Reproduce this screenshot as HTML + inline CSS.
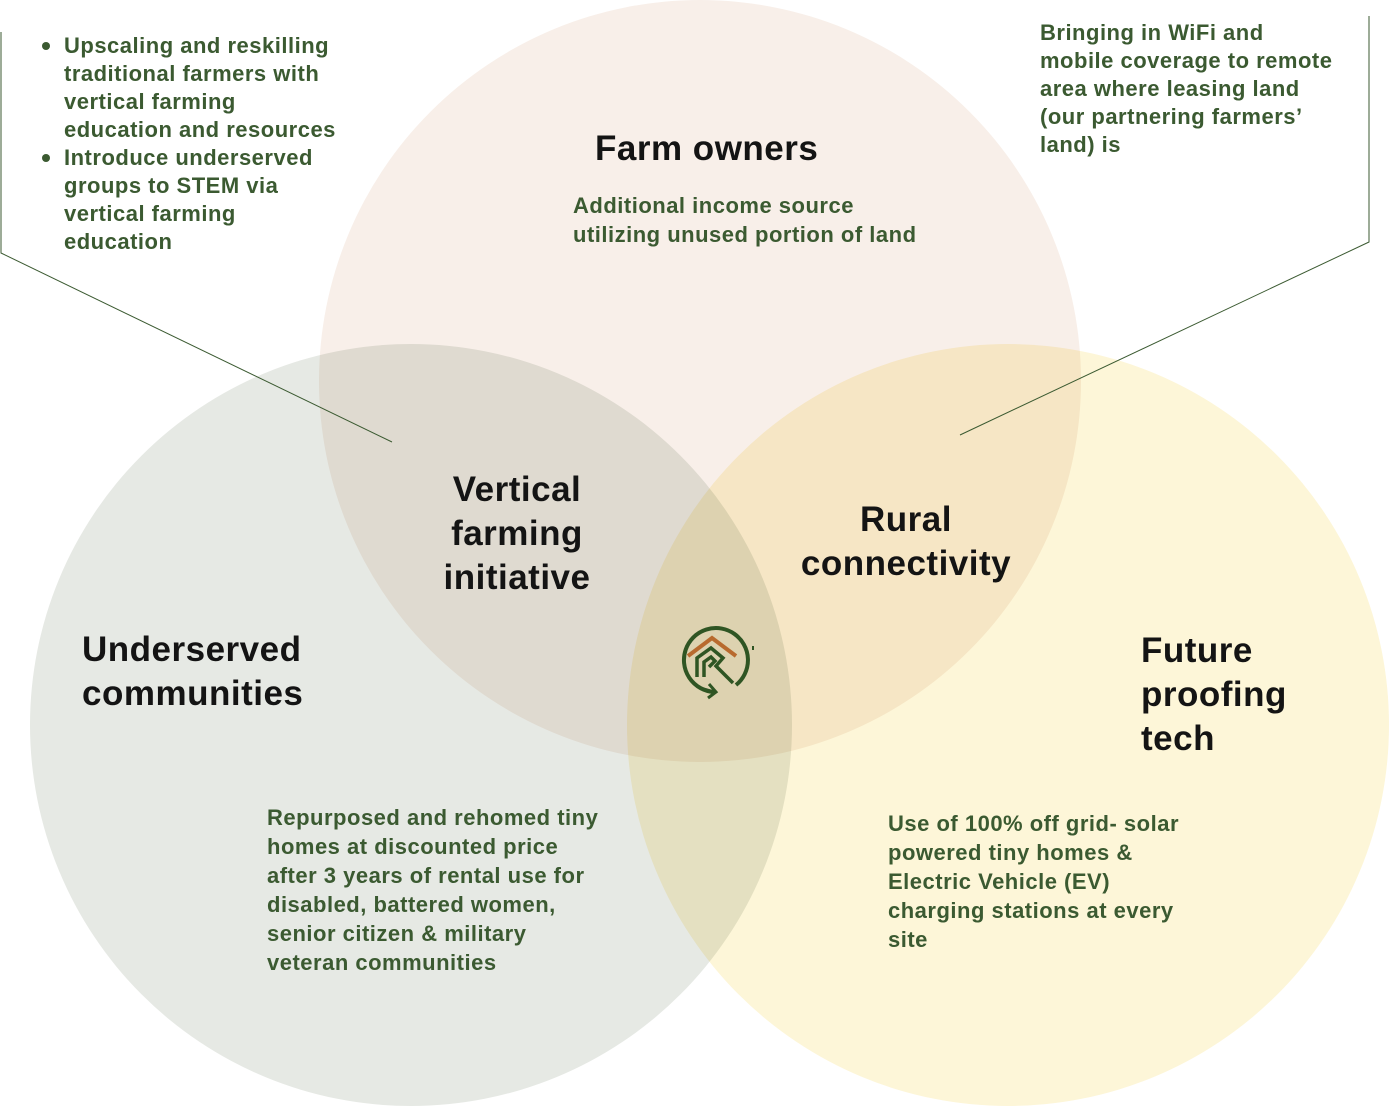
<!DOCTYPE html>
<html><head><meta charset="utf-8"><style>
html,body{margin:0;padding:0;background:#fff;}
svg{display:block;}
.h{font-family:"Liberation Sans",sans-serif;font-weight:bold;font-size:35px;letter-spacing:0.5px;fill:#141414;}
.b{font-family:"Liberation Sans",sans-serif;font-weight:bold;font-size:22px;letter-spacing:0.5px;fill:#3b5a31;}
</style></head><body>
<svg width="1390" height="1106" viewBox="0 0 1390 1106" xmlns="http://www.w3.org/2000/svg">
<circle cx="700" cy="381" r="381" fill="#f8efe9" style="mix-blend-mode:multiply"/>
<circle cx="411" cy="725" r="381" fill="#e6e9e4" style="mix-blend-mode:multiply"/>
<circle cx="1008" cy="725" r="381" fill="#fdf6d8" style="mix-blend-mode:multiply"/>
<polyline points="1,32 1,253 392,442" fill="none" stroke="#3b5a31" stroke-width="1"/>
<polyline points="1369,16 1369,242 960,435" fill="none" stroke="#3b5a31" stroke-width="1"/>

<circle cx="46" cy="46" r="4" fill="#3b5a31"/>
<circle cx="46" cy="158" r="4" fill="#3b5a31"/>
<text class="b" x="64" y="53">Upscaling and reskilling</text>
<text class="b" x="64" y="81">traditional farmers with</text>
<text class="b" x="64" y="109">vertical farming</text>
<text class="b" x="64" y="137">education and resources</text>
<text class="b" x="64" y="165">Introduce underserved</text>
<text class="b" x="64" y="193">groups to STEM via</text>
<text class="b" x="64" y="221">vertical farming</text>
<text class="b" x="64" y="249">education</text>

<text class="b" x="1040" y="40">Bringing in WiFi and</text>
<text class="b" x="1040" y="68">mobile coverage to remote</text>
<text class="b" x="1040" y="96">area where leasing land</text>
<text class="b" x="1040" y="124">(our partnering farmers’</text>
<text class="b" x="1040" y="152">land) is</text>

<text class="h" x="595" y="160">Farm owners</text>
<text class="b" x="573" y="213">Additional income source</text>
<text class="b" x="573" y="242">utilizing unused portion of land</text>

<text class="h" x="517" y="501" text-anchor="middle">Vertical</text>
<text class="h" x="517" y="545" text-anchor="middle">farming</text>
<text class="h" x="517" y="589" text-anchor="middle">initiative</text>

<text class="h" x="906" y="531" text-anchor="middle">Rural</text>
<text class="h" x="906" y="575" text-anchor="middle">connectivity</text>

<text class="h" x="82" y="661">Underserved</text>
<text class="h" x="82" y="705">communities</text>

<text class="h" x="1141" y="662">Future</text>
<text class="h" x="1141" y="706">proofing</text>
<text class="h" x="1141" y="750">tech</text>

<text class="b" x="267" y="825">Repurposed and rehomed tiny</text>
<text class="b" x="267" y="854">homes at discounted price</text>
<text class="b" x="267" y="883">after 3 years of rental use for</text>
<text class="b" x="267" y="912">disabled, battered women,</text>
<text class="b" x="267" y="941">senior citizen &amp; military</text>
<text class="b" x="267" y="970">veteran communities</text>

<text class="b" x="888" y="831">Use of 100% off grid- solar</text>
<text class="b" x="888" y="860">powered tiny homes &amp;</text>
<text class="b" x="888" y="889">Electric Vehicle (EV)</text>
<text class="b" x="888" y="918">charging stations at every</text>
<text class="b" x="888" y="947">site</text>

<!-- logo -->
<g fill="none" stroke="#2f5523" stroke-width="4">
<path d="M714 692 A32 32 0 1 1 736 685"/>
<path d="M700 688 L714 692 M709 684 L716 692 L708 698" stroke-width="3"/>
</g>
<path d="M688 656 L712 638 L736 656" fill="none" stroke="#b86a2e" stroke-width="4"/>
<path d="M697 677 L697 658 L711 648 L723 658 L716 666 L733 683 M704 677 L704 662 L711 657 L715 661 L709 667" fill="none" stroke="#2f5523" stroke-width="3.5"/>
<rect x="752" y="646" width="2" height="4" fill="#2f5523"/>
</svg>
</body></html>
